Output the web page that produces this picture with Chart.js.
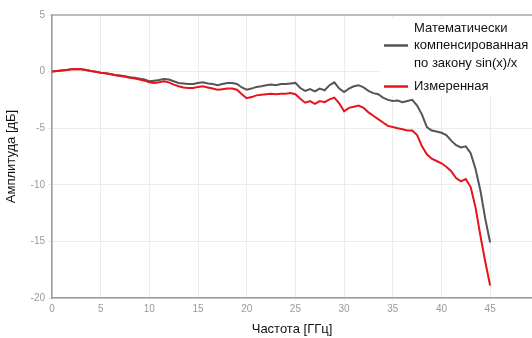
<!DOCTYPE html>
<html>
<head>
<meta charset="utf-8">
<script src="https://cdn.jsdelivr.net/npm/chart.js@4/dist/chart.umd.min.js"></script>
<style>
  html, body { margin: 0; padding: 0; background: #fff; }
  #wrap { width: 532px; height: 338px; position: relative; }
</style>
</head>
<body>
<div id="wrap"><canvas id="chart"></canvas></div>
<script>
// частота, ГГц (шаг 0.5)
const freq = [];
for (let i = 0; i <= 90; i++) freq.push(i / 2);

// математически компенсированная, дБ
const compensated = [
  0.0, 0.05, 0.1, 0.15, 0.2, 0.22, 0.2, 0.15, 0.05, -0.02,
  -0.1, -0.15, -0.22, -0.3, -0.35, -0.4, -0.5, -0.55, -0.62, -0.7,
  -0.85, -0.8, -0.75, -0.65, -0.7, -0.85, -1.0, -1.05, -1.1, -1.1,
  -1.0, -0.95, -1.05, -1.1, -1.2, -1.1, -1.0, -1.0, -1.1, -1.4,
  -1.6, -1.5, -1.35, -1.3, -1.2, -1.15, -1.2, -1.1, -1.1, -1.05,
  -1.0, -1.45, -1.7, -1.55, -1.75, -1.5, -1.65, -1.2, -0.95, -1.5,
  -1.8, -1.5, -1.3, -1.2, -1.4, -1.7, -1.9, -2.0, -2.3, -2.5,
  -2.6, -2.55, -2.7, -2.6, -2.5, -3.0, -3.8, -4.9, -5.2, -5.3,
  -5.4, -5.6, -6.1, -6.5, -6.7, -6.6, -7.2, -8.6, -10.5, -13.0,
  -15.1
];

// измеренная, дБ
const measured = [
  0.0, 0.05, 0.1, 0.15, 0.2, 0.22, 0.2, 0.15, 0.05, -0.02,
  -0.1, -0.15, -0.24, -0.32, -0.38, -0.45, -0.55, -0.62, -0.7, -0.8,
  -0.95, -1.0, -0.95, -0.85, -0.95, -1.15, -1.3, -1.4, -1.45, -1.45,
  -1.35, -1.3, -1.4, -1.5, -1.6, -1.55, -1.5, -1.5, -1.6, -2.0,
  -2.35, -2.25, -2.1, -2.05, -2.0, -1.95, -2.0, -1.95, -1.95, -1.9,
  -2.0, -2.4, -2.75, -2.6, -2.85, -2.6, -2.7, -2.45, -2.3, -2.8,
  -3.5, -3.2, -3.1, -3.0, -3.2, -3.6, -3.9, -4.2, -4.5, -4.8,
  -4.9, -5.0, -5.1, -5.2, -5.2, -5.6, -6.6, -7.3, -7.7, -7.9,
  -8.1, -8.4, -8.8, -9.4, -9.7, -9.5, -10.2, -12.0, -14.5, -16.8,
  -18.9
];

const xTicks = [0, 5, 10, 15, 20, 25, 30, 35, 40, 45];

const seriesNames = [
  ["Математически", "компенсированная", "по закону sin(x)/x"],
  ["Измеренная"]
];
const seriesColors = ["#555555", "#e8141b"];

const legendPlugin = {
  id: "sideLegend",
  beforeDatasetsDraw(chart) {
    // white box behind legend, under the curves
    const ctx = chart.ctx;
    ctx.save();
    ctx.fillStyle = "#fff";
    ctx.fillRect(380, 18, 152, 78);
    ctx.restore();
  },
  afterDraw(chart) {
    const ctx = chart.ctx;
    const area = chart.chartArea;
    ctx.save();
    ctx.font = "13px 'Liberation Sans', Arial, sans-serif";
    ctx.textBaseline = "middle";
    const textX = 414;
    let y = 28;
    chart.data.datasets.forEach((ds, i) => {
      const lines = seriesNames[i];
      ctx.fillStyle = "#111";
      lines.forEach((t, k) => ctx.fillText(t, textX, y + k * 17.5));
      const midY = y + (lines.length - 1) * 17.5 / 2;
      ctx.strokeStyle = ds.borderColor;
      ctx.lineWidth = 2.5;
      ctx.beginPath();
      ctx.moveTo(384, midY);
      ctx.lineTo(408, midY);
      ctx.stroke();
      y += lines.length * 17.5 + 6;
    });
    // top frame line
    ctx.strokeStyle = "#aaa";
    ctx.lineWidth = 1.5;
    ctx.beginPath();
    ctx.moveTo(area.left, area.top);
    ctx.lineTo(area.right, area.top);
    ctx.stroke();
    ctx.restore();
  }
};

new Chart(document.getElementById("chart"), {
  type: "line",
  data: {
    datasets: [
      {
        label: seriesNames[0].join(" "),
        data: freq.map((f, i) => ({ x: f, y: compensated[i] })),
        borderColor: seriesColors[0],
        borderWidth: 2,
        pointRadius: 0,
        tension: 0,
        order: 1
      },
      {
        label: seriesNames[1].join(" "),
        data: freq.map((f, i) => ({ x: f, y: measured[i] })),
        borderColor: seriesColors[1],
        borderWidth: 2,
        pointRadius: 0,
        tension: 0,
        order: 0
      }
    ]
  },
  options: {
    responsive: true,
    maintainAspectRatio: false,
    animation: false,
    layout: { padding: { top: 15, right: 0, left: 0, bottom: 0 } },
    plugins: { legend: { display: false }, tooltip: { enabled: false } },
    scales: {
      x: {
        type: "linear",
        min: 0,
        max: 49.3,
        afterFit: s => { s.height = 40; },
        afterBuildTicks: s => { s.ticks = xTicks.map(v => ({ value: v })); },
        ticks: {
          color: "#9a9a9a",
          font: { size: 10, family: "'Liberation Sans', Arial, sans-serif" },
          padding: 2
        },
        grid: { color: "#ececec", lineWidth: 1, tickLength: 3 },
        border: { color: "#9a9a9a", width: 1.5 },
        title: {
          display: true,
          text: "Частота [ГГц]",
          color: "#111",
          font: { size: 13, family: "'Liberation Sans', Arial, sans-serif" },
          padding: { top: 0, bottom: 1 }
        }
      },
      y: {
        min: -20,
        max: 5,
        afterFit: s => { s.width = 52; },
        ticks: {
          stepSize: 5,
          color: "#9a9a9a",
          font: { size: 10, family: "'Liberation Sans', Arial, sans-serif" },
          padding: 3
        },
        grid: { color: "#ececec", lineWidth: 1, tickLength: 4 },
        border: { color: "#9a9a9a", width: 1.5 },
        title: {
          display: true,
          text: "Амплитуда [дБ]",
          color: "#111",
          font: { size: 13, family: "'Liberation Sans', Arial, sans-serif" },
          padding: { top: 4, bottom: 0 }
        }
      }
    }
  },
  plugins: [legendPlugin]
});
</script>
</body>
</html>
